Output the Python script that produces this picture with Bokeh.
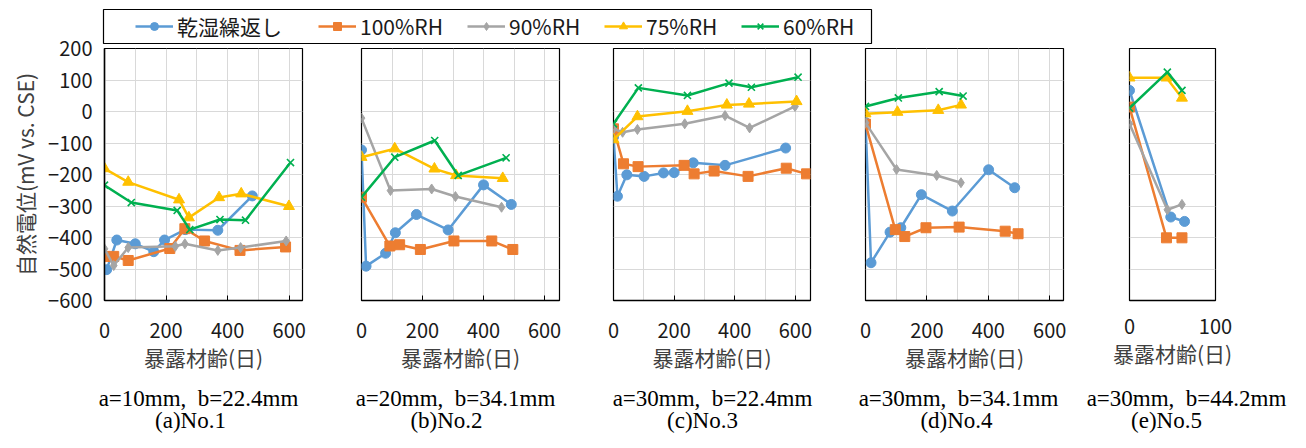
from bokeh.plotting import figure
from bokeh.models import Range1d, FixedTicker, Legend, LegendItem, ColumnDataSource
from bokeh.layouts import column, row
from bokeh.embed import file_html
from bokeh.resources import INLINE
from bokeh.core.properties import value

SANS = "Noto Sans CJK JP"
SERIF = "Liberation Serif"

# ---------------- data ----------------
series_labels = ["乾湿繰返し", "100%RH", "90%RH", "75%RH", "60%RH"]
series_colors = ["#5B9BD5", "#ED7D31", "#A5A5A5", "#FFC000", "#00B050"]
series_markers = ["circle", "square", "diamond", "triangle", "x"]

y_title = "自然電位(mV vs. CSE)"
x_title = "暴露材齢(日)"
y_ticks = [-600, -500, -400, -300, -200, -100, 0, 100, 200]
x_ticks_long = [0, 200, 400, 600]
x_minor_long = [100, 300, 500]
x_ticks_short = [0, 100]

caption_geom = ["a=10mm,\u00a0 b=22.4mm", "a=20mm,\u00a0 b=34.1mm", "a=30mm,\u00a0 b=22.4mm",
                "a=30mm,\u00a0 b=34.1mm", "a=30mm,\u00a0 b=44.2mm"]
caption_no = ["(a)No.1", "(b)No.2", "(c)No.3", "(d)No.4", "(e)No.5"]

# No.1
no1_wetdry_day = [7, 40, 100, 160, 195, 262, 368, 480]
no1_wetdry_mv = [-502, -408, -420, -445, -408, -375, -377, -268]
no1_rh100_day = [0, 30, 77, 212, 261, 325, 440, 588]
no1_rh100_mv = [-460, -460, -473, -435, -372, -411, -441, -430]
no1_rh90_day = [0, 30, 77, 230, 261, 368, 442, 590]
no1_rh90_mv = [-436, -489, -432, -428, -420, -441, -432, -411]
no1_rh75_day = [0, 77, 242, 274, 372, 444, 599]
no1_rh75_mv = [-181, -224, -280, -337, -273, -261, -301]
no1_rh60_day = [0, 87, 236, 277, 375, 458, 604]
no1_rh60_mv = [-234, -289, -314, -375, -343, -345, -162]

# No.2
no2_wetdry_day = [0, 15, 79, 111, 180, 284, 400, 491]
no2_wetdry_mv = [-122, -491, -450, -385, -327, -376, -233, -295]
no2_rh100_day = [0, 93, 125, 193, 303, 427, 496]
no2_rh100_mv = [-272, -427, -423, -438, -411, -411, -438]
no2_rh90_day = [0, 95, 230, 308, 459]
no2_rh90_mv = [-21, -251, -246, -270, -304]
no2_rh75_day = [0, 109, 239, 310, 463]
no2_rh75_mv = [-145, -118, -182, -203, -212]
no2_rh60_day = [0, 109, 240, 317, 474]
no2_rh60_mv = [-272, -145, -92, -203, -147]

# No.3
no3_wetdry_day = [0, 13, 44, 101, 165, 200, 263, 368, 568]
no3_wetdry_mv = [-81, -269, -201, -206, -195, -194, -163, -171, -116]
no3_rh100_day = [0, 33, 81, 233, 266, 332, 444, 570, 637]
no3_rh100_mv = [-55, -166, -175, -171, -198, -189, -206, -180, -198]
no3_rh90_day = [0, 30, 79, 235, 368, 449, 599]
no3_rh90_mv = [-55, -66, -57, -39, -13, -52, 16]
no3_rh75_day = [0, 79, 244, 374, 447, 604]
no3_rh75_mv = [-89, -16, 1, 21, 24, 32]
no3_rh60_day = [0, 82, 244, 381, 455, 609]
no3_rh60_mv = [-39, 75, 51, 90, 77, 109]

# No.4
no4_wetdry_day = [0, 18, 80, 115, 182, 283, 401, 486]
no4_wetdry_mv = [-35, -480, -383, -369, -264, -316, -185, -242]
no4_rh100_day = [0, 97, 128, 197, 305, 455, 497]
no4_rh100_mv = [-40, -375, -397, -369, -367, -380, -388]
no4_rh90_day = [0, 101, 232, 311]
no4_rh90_mv = [-36, -184, -203, -226]
no4_rh75_day = [0, 104, 237, 311]
no4_rh75_mv = [-7, -2, 4, 21]
no4_rh60_day = [0, 107, 240, 318]
no4_rh60_mv = [16, 43, 63, 49]

# No.5
no5_wetdry_day = [0, 48, 64]
no5_wetdry_mv = [67, -335, -349]
no5_rh100_day = [0, 43, 61]
no5_rh100_mv = [14, -401, -401]
no5_rh90_day = [0, 44, 61]
no5_rh90_mv = [-39, -312, -295]
no5_rh75_day = [0, 43, 61]
no5_rh75_mv = [107, 107, 43]
no5_rh60_day = [0, 44, 61]
no5_rh60_mv = [11, 125, 67]

panel_days = [
    [no1_wetdry_day, no1_rh100_day, no1_rh90_day, no1_rh75_day, no1_rh60_day],
    [no2_wetdry_day, no2_rh100_day, no2_rh90_day, no2_rh75_day, no2_rh60_day],
    [no3_wetdry_day, no3_rh100_day, no3_rh90_day, no3_rh75_day, no3_rh60_day],
    [no4_wetdry_day, no4_rh100_day, no4_rh90_day, no4_rh75_day, no4_rh60_day],
    [no5_wetdry_day, no5_rh100_day, no5_rh90_day, no5_rh75_day, no5_rh60_day],
]
panel_mv = [
    [no1_wetdry_mv, no1_rh100_mv, no1_rh90_mv, no1_rh75_mv, no1_rh60_mv],
    [no2_wetdry_mv, no2_rh100_mv, no2_rh90_mv, no2_rh75_mv, no2_rh60_mv],
    [no3_wetdry_mv, no3_rh100_mv, no3_rh90_mv, no3_rh75_mv, no3_rh60_mv],
    [no4_wetdry_mv, no4_rh100_mv, no4_rh90_mv, no4_rh75_mv, no4_rh60_mv],
    [no5_wetdry_mv, no5_rh100_mv, no5_rh90_mv, no5_rh75_mv, no5_rh60_mv],
]
panel_xmax = [643, 649, 650, 645, 100]

# ---------------- layout / style ----------------
marker_sizes = [10, 10, 10, 11, 10]
frame_w = [198, 198, 197, 198, 86]
panel_bl = [104, 31, 27, 27, 54]
panel_br = [28, 27, 28, 12, 75]
legend_item_dx = [32, 215, 364, 501, 638]      # px from legend box's left edge
caption_geom_cx = [198, 455, 712, 958, 1186]   # px from page left
caption_no_cx = [190, 446, 702, 956, 1166]
caption_geom_y = 36                            # px above caption strip bottom
caption_no_y = 14

GRID = "#D9D9D9"


def make_panel(k):
    p = figure(frame_width=frame_w[k], frame_height=252,
               x_range=Range1d(0, panel_xmax[k]), y_range=Range1d(-600, 200),
               output_backend="svg", toolbar_location=None,
               min_border_left=panel_bl[k], min_border_right=panel_br[k],
               min_border_top=16, min_border_bottom=72)
    p.background_fill_color = "white"
    p.border_fill_alpha = 0
    p.outline_line_color = "black"
    p.outline_line_width = 1.2
    # x axis
    if k < 4:
        p.xaxis.ticker = FixedTicker(ticks=x_ticks_long, minor_ticks=x_minor_long)
        p.xgrid.grid_line_color = GRID
        p.xgrid.minor_grid_line_color = GRID
    else:
        p.xaxis.ticker = FixedTicker(ticks=x_ticks_short)
        p.xgrid.visible = False
    p.xaxis.axis_label = x_title
    p.xaxis.axis_label_text_font = SANS
    p.xaxis.axis_label_text_font_size = "21px"
    p.xaxis.axis_label_text_font_style = "normal"
    p.xaxis.axis_label_text_color = "#404040"
    p.xaxis.axis_label_standoff = 1
    p.xaxis.major_label_text_font = SANS
    p.xaxis.major_label_text_font_size = "20px"
    p.xaxis.major_label_text_color = "#1a1a1a"
    p.xaxis.major_label_standoff = 18
    p.xaxis.major_tick_in = 5
    p.xaxis.major_tick_out = 0
    p.xaxis.major_tick_line_color = "black"
    p.xaxis.minor_tick_line_color = None
    p.xaxis.axis_line_color = "black"
    p.xaxis.axis_line_width = 1.5
    # y axis
    p.yaxis.ticker = FixedTicker(ticks=y_ticks)
    p.ygrid.grid_line_color = GRID
    if k == 0:
        p.yaxis.axis_label = y_title
        p.yaxis.axis_label_text_font = SANS
        p.yaxis.axis_label_text_font_size = "21px"
        p.yaxis.axis_label_text_font_style = "normal"
        p.yaxis.axis_label_text_color = "#404040"
        p.yaxis.axis_label_standoff = 5
        p.yaxis.major_label_text_font = SANS
        p.yaxis.major_label_text_font_size = "20px"
        p.yaxis.major_label_text_color = "#1a1a1a"
        p.yaxis.major_label_standoff = 12
        p.yaxis.major_tick_in = 0
        p.yaxis.major_tick_out = 0
        p.yaxis.minor_tick_line_color = None
        p.yaxis.axis_line_color = "black"
        p.yaxis.axis_line_width = 1.5
    else:
        p.yaxis.visible = False
    # series
    for s in range(5):
        src = ColumnDataSource(dict(day=panel_days[k][s], mv=panel_mv[k][s]))
        c = series_colors[s]
        p.line("day", "mv", source=src, line_color=c, line_width=2.5)
        if series_markers[s] == "x":
            p.scatter("day", "mv", source=src, marker="x", size=marker_sizes[s],
                      line_color=c, line_width=1.6)
        else:
            p.scatter("day", "mv", source=src, marker=series_markers[s],
                      size=marker_sizes[s], fill_color=c, line_color=c)
    return p


panels = [make_panel(k) for k in range(5)]

# ---------------- legend strip ----------------
leg = figure(width=1290, height=47, x_range=Range1d(0, 1), y_range=Range1d(0, 1),
             x_axis_type=None, y_axis_type=None, output_backend="svg",
             toolbar_location=None, min_border_left=103, min_border_right=419,
             min_border_top=9, min_border_bottom=4)
leg.background_fill_color = "white"
leg.border_fill_color = "white"
leg.outline_line_color = "black"
leg.outline_line_width = 1.2
for s in range(5):
    src = ColumnDataSource(dict(x=[float("nan")], y=[float("nan")]))
    c = series_colors[s]
    r1 = leg.line("x", "y", source=src, line_color=c, line_width=2.5)
    if series_markers[s] == "x":
        r2 = leg.scatter("x", "y", source=src, marker="x", size=9, line_color=c, line_width=1.6)
    else:
        r2 = leg.scatter("x", "y", source=src, marker=series_markers[s], size=8,
                         fill_color=c, line_color=c)
    lg = Legend(items=[LegendItem(label=series_labels[s], renderers=[r1, r2])],
                orientation="horizontal", location="left", margin=legend_item_dx[s],
                padding=0, spacing=0, glyph_width=38, glyph_height=20, label_standoff=4,
                border_line_color=None, background_fill_alpha=0,
                label_text_font=SANS, label_text_font_size="21px",
                label_text_color="#1a1a1a")
    leg.add_layout(lg, "center")

# ---------------- caption strip ----------------
cap = figure(width=1290, height=60, x_range=Range1d(0, 1290), y_range=Range1d(0, 60),
             x_axis_type=None, y_axis_type=None, output_backend="svg",
             toolbar_location=None, min_border=0)
cap.outline_line_color = None
cap.background_fill_alpha = 0
cap.border_fill_alpha = 0
for texts, xs, yy in ((caption_geom, caption_geom_cx, caption_geom_y),
                      (caption_no, caption_no_cx, caption_no_y)):
    src = ColumnDataSource(dict(x=xs, y=[yy] * len(xs), t=texts))
    cap.text("x", "y", text="t", source=src, text_align="center", text_baseline="middle",
             text_font=value(SERIF), text_font_size="23px", text_color="black")

panel_row = row(*panels, spacing=0, margin=(-15, 0, 0, 0))
layout = column(leg, panel_row, row(cap), spacing=0)
open("out.html", "w").write(file_html(layout, INLINE))
